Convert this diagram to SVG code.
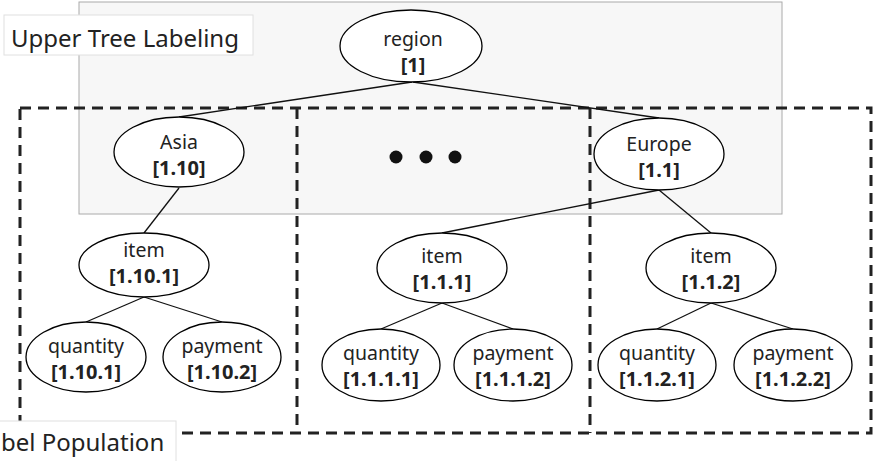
<svg xmlns="http://www.w3.org/2000/svg" width="874" height="461" viewBox="0 0 874 461">
<style>
.n ellipse{fill:#fff;stroke:#000;stroke-width:1.3}
.t{font-family:"Noto Sans","Open Sans",sans-serif;font-size:19.5px;fill:#222;text-anchor:middle}
.b{font-weight:bold;font-size:20px}
.lbl{font-family:"Noto Sans","Open Sans",sans-serif;font-size:24px;fill:#222}
.dash{fill:none;stroke:#222;stroke-width:3;stroke-dasharray:11 7}
#edges line{stroke:#111;stroke-width:1.3}
</style>
<rect width="874" height="461" fill="#fff"/>
<rect id="upper" x="79" y="2" width="703" height="212" fill="#f7f7f7" stroke="#aaa" stroke-width="1"/>
<g id="upper-label">
<rect x="4" y="15" width="249" height="40" fill="#fff" stroke="#e0e0e0"/>
<text class="lbl" x="11" y="47">Upper Tree Labeling</text>
</g>
<g id="partitions">
<rect class="dash" x="20" y="108" width="851" height="325"/>
<line class="dash" x1="297" y1="108" x2="297" y2="433"/>
<line class="dash" x1="590" y1="108" x2="590" y2="433"/>
</g>
<g id="pop-label">
<rect x="-2" y="421" width="178" height="44" fill="#fff" stroke="#e0e0e0"/>
<text class="lbl" x="1" y="451">bel Population</text>
</g>
<g id="edges">
<line x1="412" y1="82" x2="179" y2="117"/>
<line x1="413" y1="82" x2="659" y2="118"/>
<line x1="179" y1="188" x2="144" y2="233"/>
<line x1="659" y1="190" x2="442" y2="233"/>
<line x1="659" y1="190" x2="711" y2="233"/>
<line x1="144" y1="297" x2="86" y2="322"/>
<line x1="144" y1="297" x2="222" y2="322"/>
<line x1="442" y1="303" x2="381" y2="329"/>
<line x1="442" y1="303" x2="513" y2="329"/>
<line x1="711" y1="303" x2="657" y2="329"/>
<line x1="711" y1="303" x2="793" y2="329"/>
</g>
<g id="dots" fill="#111">
<circle cx="396" cy="157" r="6.5"/>
<circle cx="426" cy="157" r="6.5"/>
<circle cx="455" cy="157" r="6.5"/>
</g>
<g id="region" class="n"><ellipse cx="411" cy="46" rx="71" ry="36"/><text class="t" x="413" y="46">region</text><text class="t b" x="413" y="72">[1]</text></g>
<g id="asia" class="n"><ellipse cx="179" cy="152" rx="65" ry="35"/><text class="t" x="179" y="149">Asia</text><text class="t b" x="179" y="175">[1.10]</text></g>
<g id="europe" class="n"><ellipse cx="659" cy="154" rx="65" ry="36"/><text class="t" x="659" y="151">Europe</text><text class="t b" x="659" y="177">[1.1]</text></g>
<g id="item-1-10-1" class="n"><ellipse cx="144" cy="265" rx="65" ry="32"/><text class="t" x="144" y="257">item</text><text class="t b" x="144" y="283">[1.10.1]</text></g>
<g id="quantity-1-10-1" class="n"><ellipse cx="86" cy="357" rx="60" ry="35"/><text class="t" x="86" y="353">quantity</text><text class="t b" x="86" y="379">[1.10.1]</text></g>
<g id="payment-1-10-2" class="n"><ellipse cx="222" cy="357" rx="59" ry="35"/><text class="t" x="222" y="353">payment</text><text class="t b" x="222" y="379">[1.10.2]</text></g>
<g id="item-1-1-1" class="n"><ellipse cx="442" cy="268" rx="65" ry="35"/><text class="t" x="442" y="263">item</text><text class="t b" x="442" y="289">[1.1.1]</text></g>
<g id="quantity-1-1-1-1" class="n"><ellipse cx="381" cy="365" rx="59" ry="36"/><text class="t" x="381" y="360">quantity</text><text class="t b" x="381" y="386">[1.1.1.1]</text></g>
<g id="payment-1-1-1-2" class="n"><ellipse cx="513" cy="365" rx="59" ry="36"/><text class="t" x="513" y="360">payment</text><text class="t b" x="513" y="386">[1.1.1.2]</text></g>
<g id="item-1-1-2" class="n"><ellipse cx="711" cy="268" rx="65" ry="35"/><text class="t" x="711" y="263">item</text><text class="t b" x="711" y="289">[1.1.2]</text></g>
<g id="quantity-1-1-2-1" class="n"><ellipse cx="657" cy="365" rx="59" ry="36"/><text class="t" x="657" y="360">quantity</text><text class="t b" x="657" y="386">[1.1.2.1]</text></g>
<g id="payment-1-1-2-2" class="n"><ellipse cx="793" cy="365" rx="59" ry="36"/><text class="t" x="793" y="360">payment</text><text class="t b" x="793" y="386">[1.1.2.2]</text></g>
</svg>
